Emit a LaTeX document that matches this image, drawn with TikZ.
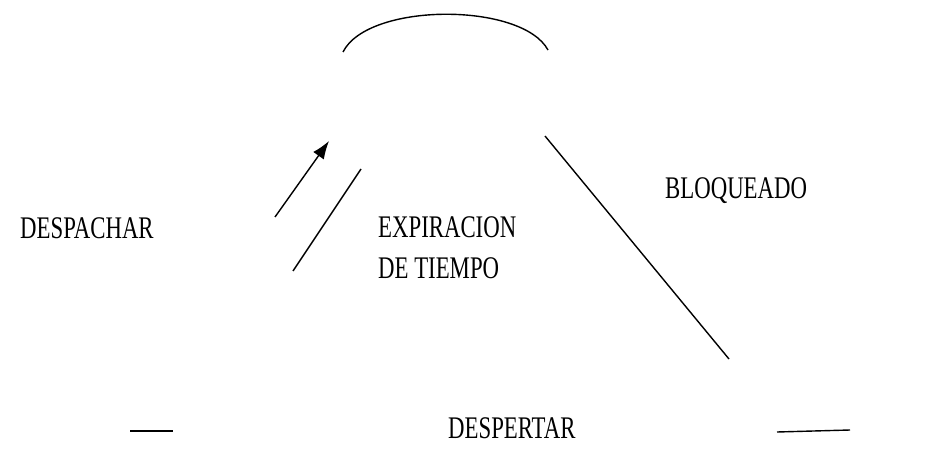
\documentclass[tikz,border=0pt]{standalone}
\usepackage{fontspec}
\usepackage{graphicx}
\setmainfont{Liberation Serif}
\usetikzlibrary{arrows.meta}

\tikzset{
	lbl/.style = {anchor=base west, inner sep=0pt, font=\fontsize{22.8}{29}\selectfont},
	ln/.style = {line width=1.4pt}
}
\newcommand{\tallbox}[1]{\scalebox{1}[1.38]{#1}}

\begin{document}
\begin{tikzpicture}[x=1pt, y=-1pt]
	\useasboundingbox (0,0) rectangle (943,460);
	
	% arc over the top state
	\coordinate (al) at (343,52);
	\coordinate (ar) at (548,50);
	\draw[ln] (al) .. controls (368,2) and (522,2) .. (ar);
	
	% labels
	\node[lbl] (desp) at (20,238) {\tallbox{DESPACHAR}};
	\node[lbl] (exp) at (378,278) {\tallbox{\begin{tabular}[b]{@{}l@{}}EXPIRACION\\DE TIEMPO\end{tabular}}};
	\node[lbl] (bloq) at (665,198) {\tallbox{BLOQUEADO}};
	\node[lbl] (desper) at (448,438) {\tallbox{DESPERTAR}};
	
	% despachar arrow
	\coordinate (d1) at (275,217);
	\coordinate (d2) at (329,141);
	\draw[ln, -{Latex[length=18pt,width=13pt]}] (d1) -- (d2);
	
	% expiracion de tiempo
	\coordinate (e1) at (361,169);
	\coordinate (e2) at (293,271);
	\draw[ln] (e1) -- (e2);
	
	% bloqueado
	\coordinate (b1) at (545,136);
	\coordinate (b2) at (729,359);
	\draw[ln] (b1) -- (b2);
	
	% short pieces
	\coordinate (s1) at (130,431);
	\coordinate (s2) at (173,431);
	\draw[ln] (s1) -- (s2);
	\coordinate (w1) at (777,432);
	\coordinate (w2) at (850,430);
	\draw[ln] (w1) -- (w2);
	
\end{tikzpicture}
\end{document}
